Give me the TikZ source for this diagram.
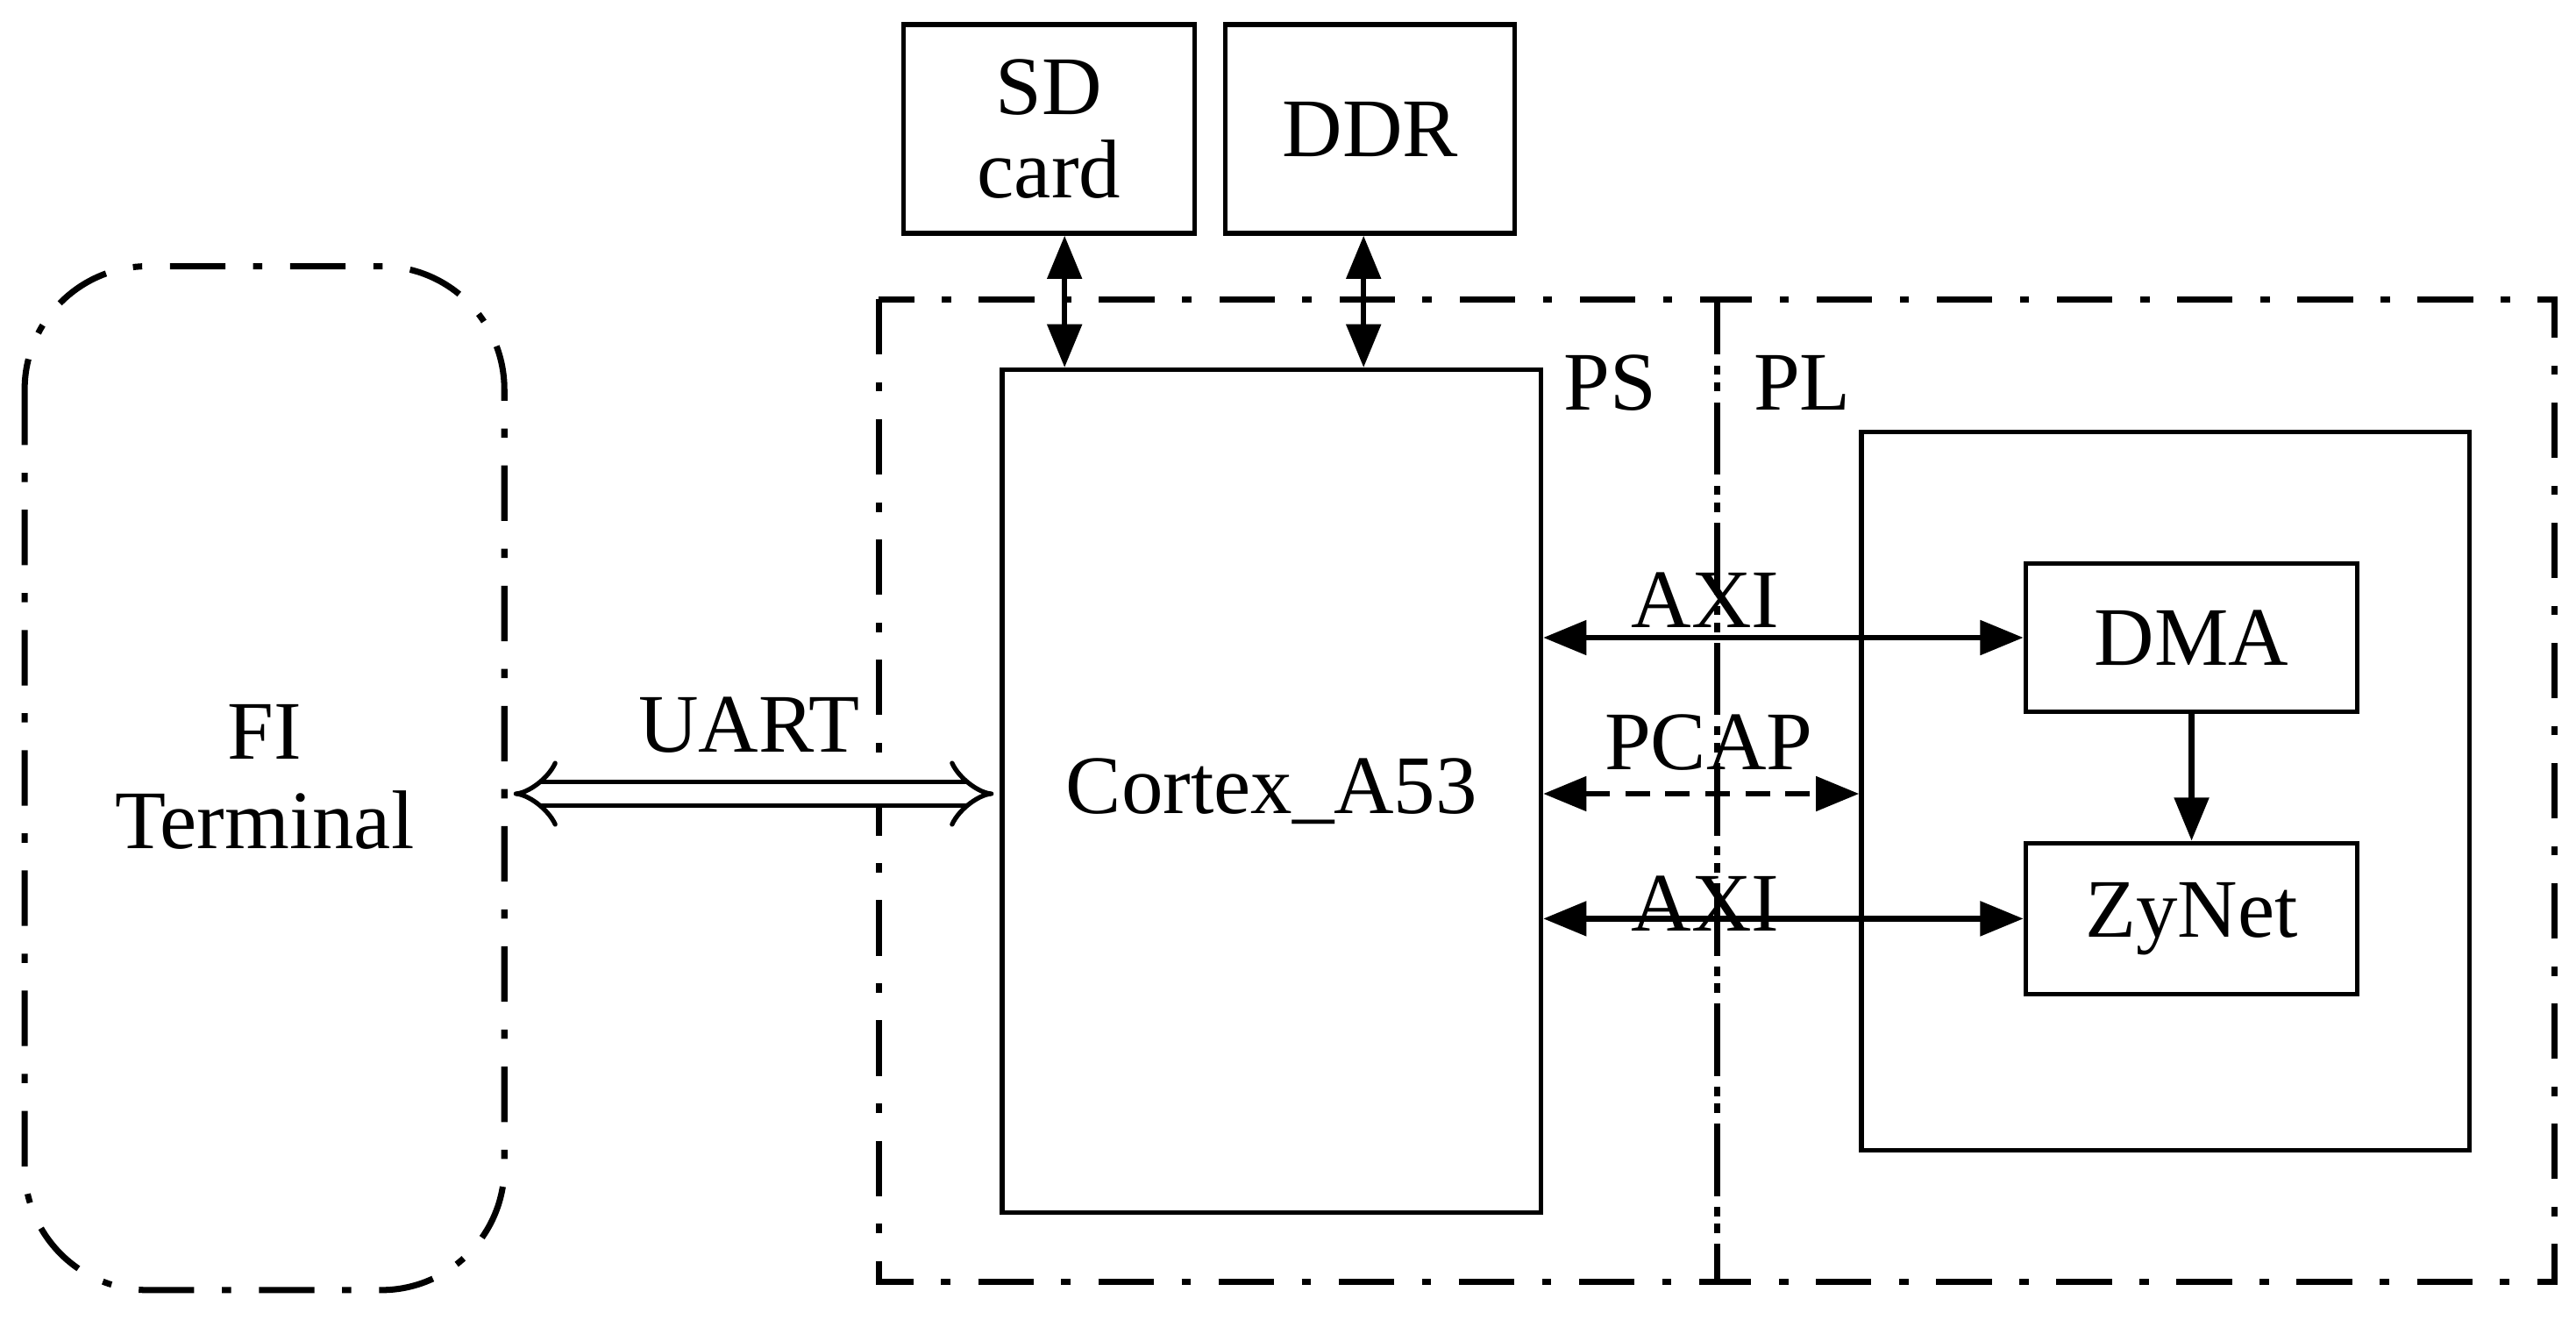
\documentclass[tikz,border=0pt]{standalone}
\usepackage{fontspec}
\setmainfont{Liberation Serif}
\usetikzlibrary{arrows.meta}
\begin{document}
\begin{tikzpicture}[x=0.01874cm,y=-0.01874cm,
  box/.style={draw,line width=1.5pt,inner sep=0pt},
  dd/.style={draw,line width=2pt,dash pattern=on 18pt off 9pt on 3pt off 9pt},
  lab/.style={font=\fontsize{27}{31}\selectfont,inner sep=0pt},
  arr/.style={line width=1.8pt,{Triangle[length=14pt,width=11pt]}-{Triangle[length=14pt,width=11pt]}},
  every node/.style={font=\fontsize{27}{31}\selectfont}]
\useasboundingbox (0,0) rectangle (1568,803);
% containers
\draw[dd,rounded corners=40pt] (15,162) rectangle (307,785);
\node[lab,align=center] (fi) at (161,473) {FI\\[-2pt]Terminal};
\coordinate (fiR) at (307,483);
\draw[dd] (535,182) rectangle (1045,780);
\draw[dd] (1045,182) rectangle (1555,780);
\node[lab] (ps) at (980,233) {PS};
\node[lab] (pl) at (1097,233) {PL};
% boxes
\node[box,minimum width=177*0.01874cm,minimum height=127*0.01874cm,align=center] (sd) at (638.5,78.5) {SD\\[-4pt]card};
\node[box,minimum width=176*0.01874cm,minimum height=127*0.01874cm] (ddr) at (834,78.5) {DDR};
\node[box,minimum width=328*0.01874cm,minimum height=513*0.01874cm] (cpu) at (774,481.5) {Cortex\_A53};
\node[box,minimum width=370*0.01874cm,minimum height=437*0.01874cm] (plb) at (1318,481.5) {};
\node[box,minimum width=202*0.01874cm,minimum height=90*0.01874cm] (dma) at (1334,388) {DMA};
\node[box,minimum width=202*0.01874cm,minimum height=92*0.01874cm] (zy) at (1334,559) {ZyNet};
% connectors
\draw[arr] (sd.south -| 648,0) -- (cpu.north -| 648,0);
\draw[arr] (ddr.south -| 830,0) -- (cpu.north -| 830,0);
\draw[arr] (cpu.east |- dma) -- (dma.west);
\draw[arr,dashed,dash pattern=on 8pt off 5pt] (cpu.east |- 0,483) -- (plb.west |- 0,483);
\draw[arr] (cpu.east |- zy) -- (zy.west);
\draw[line width=1.8pt,-{Triangle[length=14pt,width=11pt]}] (dma) -- (zy);
\node[lab] (axi1) at (1038,365) {AXI};
\node[lab] (pcap) at (1040,452) {PCAP};
\node[lab] (axi2) at (1038,550) {AXI};
\node[lab] (uart) at (456,441) {UART};
\draw[double distance=6pt,line width=1.5pt,{Implies[length=10pt]}-{Implies[length=10pt]}] ([xshift=3pt]fiR) -- ([xshift=-2pt]cpu.west |- fiR);
\end{tikzpicture}
\end{document}
